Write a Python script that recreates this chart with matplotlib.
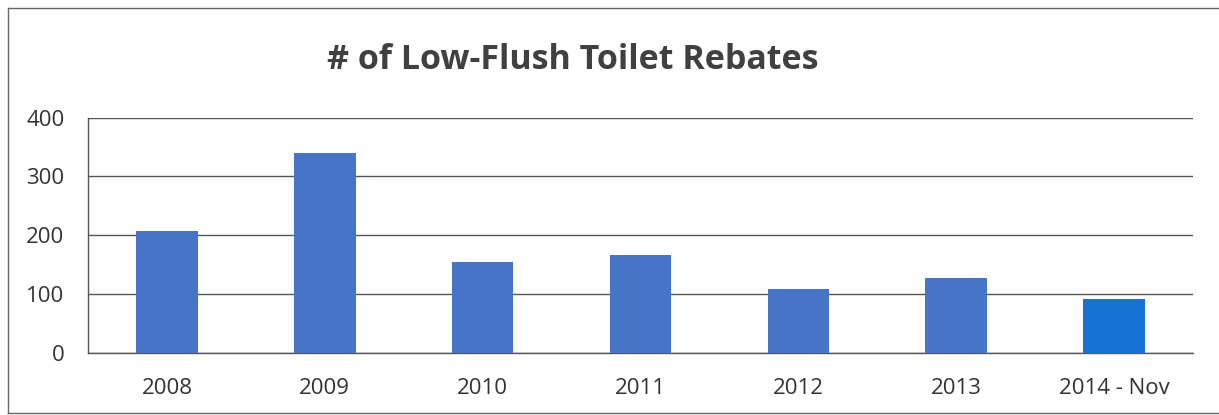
import matplotlib
matplotlib.use("Agg")
import matplotlib.pyplot as plt
from matplotlib.lines import Line2D

categories = ["2008", "2009", "2010", "2011", "2012", "2013", "2014 - Nov"]
rebates = [207, 340, 155, 166, 109, 127, 92]
bar_colors = ["#4674C6", "#4674C6", "#4674C6", "#4674C6", "#4674C6", "#4674C6", "#1672D4"]
yticks = [0, 100, 200, 300, 400]
title = "# of Low-Flush Toilet Rebates"

plt.rcParams['font.family'] = ['Open Sans', 'DejaVu Sans']

fig = plt.figure(figsize=(12.19, 4.15), dpi=100)
ax = fig.add_axes([88/1219, 1 - 353/415, (1193-88)/1219, (353-117.5)/415])

x = list(range(len(categories)))
ax.bar(x, rebates, width=0.39, color=bar_colors, zorder=3)
ax.set_xlim(-0.5, len(categories) - 0.5)
ax.set_ylim(0, 400)
ax.set_yticks(yticks)
ax.set_xticks(x)
ax.set_xticklabels(categories)
ax.yaxis.grid(True, color="#555555", linewidth=1.0, zorder=1)
ax.set_axisbelow(True)
for s in ["top", "right"]:
    ax.spines[s].set_visible(False)
for s in ["left", "bottom"]:
    ax.spines[s].set_color("#555555")
    ax.spines[s].set_linewidth(1.0)
ax.tick_params(axis="both", length=0, labelsize=16, labelcolor="#333333")
ax.tick_params(axis="y", pad=17)
ax.tick_params(axis="x", pad=18)

fig.text(573/1219, 1 - 60/415, title, ha="center", va="center",
         fontsize=24.5, fontweight="bold", color="#404040")

# outer frame (left, top, bottom visible)
L, T, B = 8/1219, 1 - 8/415, 2/415
for xs, ys in [([L, L], [B, T]), ([L, 1], [T, T]), ([L, 1], [B, B])]:
    fig.add_artist(Line2D(xs, ys, transform=fig.transFigure, color="#666666", linewidth=1.0))

fig.savefig("out.png", dpi=100)
